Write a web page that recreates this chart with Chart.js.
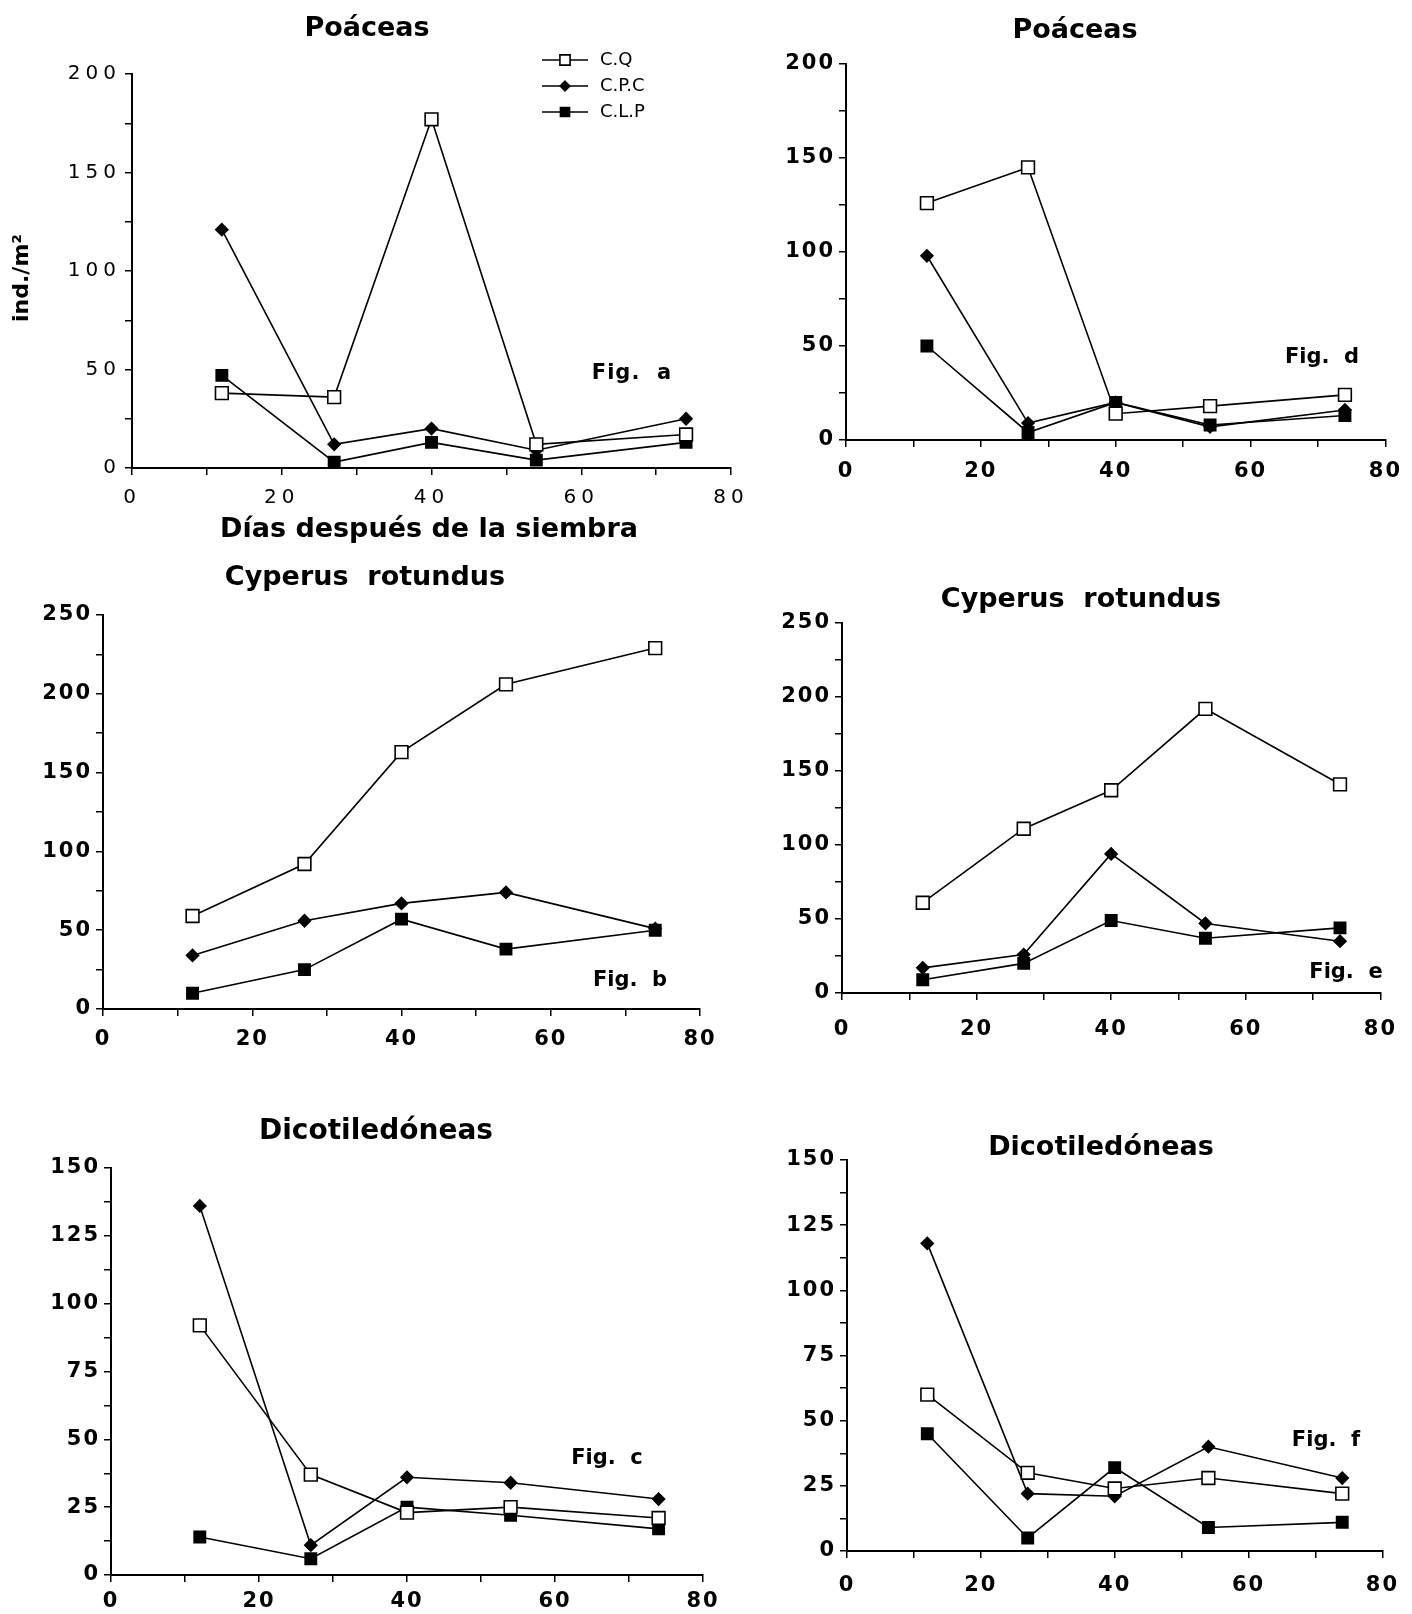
<!DOCTYPE html>
<html>
<head>
<meta charset="utf-8">
<script src="https://cdn.jsdelivr.net/npm/chart.js@4.4.0/dist/chart.umd.min.js"></script>
<style>
    body { margin: 0; background: #fff; }
    #page { position: relative; width: 1412px; height: 1614px; overflow: hidden; background: #fff; }
    #page canvas { position: absolute; }
</style>
</head>
<body>
<div id="page">
    <canvas id="figA" width="770" height="560" style="left:0;top:0"></canvas>
    <canvas id="figD" width="652" height="500" style="left:760px;top:0"></canvas>
    <canvas id="figB" width="760" height="520" style="left:0;top:540px"></canvas>
    <canvas id="figE" width="652" height="500" style="left:760px;top:560px"></canvas>
    <canvas id="figC" width="760" height="534" style="left:0;top:1080px"></canvas>
    <canvas id="figF" width="652" height="534" style="left:760px;top:1080px"></canvas>
</div>
<script>
// Days after sowing (x values, shared by every panel)
const days = [12, 27, 40, 54, 74];

// Series names
const seriesNames = ['C.Q', 'C.P.C', 'C.L.P'];

// Fig. a - Poaceas
const cqA = [38, 36, 177, 12, 17];
const cpcA = [121, 12, 20, 9, 25];
const clpA = [47, 3, 13, 4, 13];

// Fig. d - Poaceas
const cqD = [126, 145, 14, 18, 24];
const cpcD = [98, 9, 20, 7, 16];
const clpD = [50, 4, 20, 8, 13];

// Fig. b - Cyperus rotundus
const cqB = [59, 92, 163, 206, 229];
const cpcB = [34, 56, 67, 74, 51];
const clpB = [10, 25, 57, 38, 50];

// Fig. e - Cyperus rotundus
const cqE = [61, 111, 137, 192, 141];
const cpcE = [17, 26, 94, 47, 35];
const clpE = [9, 20, 49, 37, 44];

// Fig. c - Dicotiledoneas
const cqC = [92, 37, 23, 25, 21];
const cpcC = [136, 11, 36, 34, 28];
const clpC = [14, 6, 25, 22, 17];

// Fig. f - Dicotiledoneas
const cqF = [60, 30, 24, 28, 22];
const cpcF = [118, 22, 21, 40, 28];
const clpF = [45, 5, 32, 9, 11];

const FONT = '"DejaVu Sans", Verdana, sans-serif';

// marker styles for the three series
const markerStyles = [
    { pointStyle: 'rect', fill: '#fff', radius: 9 },
    { pointStyle: 'rectRot', fill: '#000', radius: 6 },
    { pointStyle: 'rect', fill: '#000', radius: 8 }
];

function toPoints(values) {
    return days.map((d, i) => ({ x: d, y: values[i] }));
}

function drawMarker(ctx, style, x, y) {
    ctx.save();
    ctx.fillStyle = style.fill;
    ctx.strokeStyle = '#000';
    ctx.lineWidth = 1.6;
    ctx.beginPath();
    if (style.pointStyle === 'rect') {
        const s = style.radius * Math.SQRT1_2;
        ctx.rect(x - s, y - s, 2 * s, 2 * s);
    } else {
        const r = style.radius;
        ctx.moveTo(x, y - r);
        ctx.lineTo(x + r, y);
        ctx.lineTo(x, y + r);
        ctx.lineTo(x - r, y);
        ctx.closePath();
    }
    ctx.fill();
    ctx.stroke();
    ctx.restore();
}

// Draws titles, Fig. labels, axis titles and the legend
const panelText = {
    id: 'panelText',
    beforeDraw(chart, args, o) {
        chart.ctx.letterSpacing = o.tickSpacing || '0px';
    },
    afterDraw(chart, args, o) {
        const ctx = chart.ctx;
        const ox = o.offset[0], oy = o.offset[1];
        ctx.save();
        ctx.letterSpacing = '0px';
        ctx.fillStyle = '#000';
        ctx.textAlign = 'center';
        ctx.textBaseline = 'middle';
        (o.items || []).forEach(t => {
            ctx.save();
            ctx.font = t.font;
            ctx.letterSpacing = t.spacing || '0px';
            ctx.translate(t.x - ox, t.y - oy);
            if (t.rotate) ctx.rotate(t.rotate);
            ctx.fillText(t.text, 0, 0);
            ctx.restore();
        });
        if (o.legend) {
            const lg = o.legend;
            seriesNames.forEach((name, i) => {
                const y = lg.y + i * lg.gap - oy;
                ctx.strokeStyle = '#000';
                ctx.lineWidth = 1.5;
                ctx.beginPath();
                ctx.moveTo(lg.x - ox, y);
                ctx.lineTo(lg.x + lg.len - ox, y);
                ctx.stroke();
                drawMarker(ctx, { ...markerStyles[i], radius: markerStyles[i].radius * 0.8 }, lg.x + lg.len / 2 - ox, y);
                ctx.font = '18px ' + FONT;
                ctx.textAlign = 'left';
                ctx.fillText(name, lg.x + lg.len + 12 - ox, y);
            });
        }
        ctx.restore();
    }
};

function createPanel(canvasId, cfg) {
    const ctx = document.getElementById(canvasId).getContext('2d');
    const valueSets = [cfg.cq, cfg.cpc, cfg.clp];
    const tickFont = cfg.tickFont || { family: FONT, size: 21, weight: 'bold' };

    return new Chart(ctx, {
        type: 'line',
        data: {
            datasets: valueSets.map((values, i) => ({
                label: seriesNames[i],
                data: toPoints(values),
                borderColor: '#000',
                borderWidth: 1.6,
                pointStyle: markerStyles[i].pointStyle,
                pointRadius: markerStyles[i].radius,
                pointBackgroundColor: markerStyles[i].fill,
                pointBorderColor: '#000',
                pointBorderWidth: 1.6,
                fill: false,
                tension: 0
            }))
        },
        options: {
            responsive: false,
            animation: false,
            layout: {
                padding: { left: 0, top: cfg.padTop, right: cfg.padRight, bottom: 0 }
            },
            plugins: {
                legend: { display: false },
                tooltip: { enabled: false },
                panelText: {
                    offset: cfg.offset,
                    items: cfg.texts,
                    legend: cfg.legend,
                    tickSpacing: cfg.tickSpacing || '2px'
                }
            },
            scales: {
                x: {
                    type: 'linear',
                    min: 0,
                    max: 80,
                    afterFit: s => { s.height = cfg.xAxisH; },
                    ticks: {
                        stepSize: 10,
                        autoSkip: false,
                        maxRotation: 0,
                        padding: cfg.xPad,
                        color: '#000',
                        font: tickFont,
                        callback: v => (v % 20 === 0 ? v : '')
                    },
                    grid: { drawOnChartArea: false, drawTicks: true, tickLength: 7, color: '#000', lineWidth: 1.5 },
                    border: { display: true, color: '#000', width: 2 }
                },
                y: {
                    type: 'linear',
                    min: 0,
                    max: cfg.yMax,
                    afterFit: s => { s.width = cfg.yAxisW; },
                    ticks: {
                        stepSize: cfg.yStep / 2,
                        autoSkip: false,
                        padding: 4,
                        color: '#000',
                        font: tickFont,
                        callback: v => (v % cfg.yStep === 0 ? v : '')
                    },
                    grid: { drawOnChartArea: false, drawTicks: true, tickLength: 7, color: '#000', lineWidth: 1.5 },
                    border: { display: true, color: '#000', width: 2 }
                }
            }
        },
        plugins: [panelText]
    });
}

const titleFont = 'bold 27px ' + FONT;
const figFont = 'bold 21px ' + FONT;

createPanel('figA', {
    cq: cqA, cpc: cpcA, clp: clpA,
    yMax: 200, yStep: 50,
    offset: [0, 0],
    padTop: 74, padRight: 39, yAxisW: 132, xAxisH: 92, xPad: 11,
    tickFont: { family: FONT, size: 20, weight: 'normal' },
    tickSpacing: '5px',
    texts: [
        { text: 'Poáceas', x: 367, y: 29, font: titleFont },
        { text: 'ind./m²', x: 22, y: 278, font: 'bold 22px ' + FONT, rotate: -Math.PI / 2 },
        { text: 'Días después de la siembra', x: 429, y: 530, font: 'bold 27px ' + FONT },
        { text: 'Fig.  a', x: 632, y: 374, font: figFont, spacing: '1px' }
    ],
    legend: { x: 542, y: 60, gap: 26, len: 46 }
});

createPanel('figD', {
    cq: cqD, cpc: cpcD, clp: clpD,
    yMax: 200, yStep: 50,
    offset: [760, 0],
    padTop: 64, padRight: 23, yAxisW: 86, xAxisH: 60, xPad: 12,
    texts: [
        { text: 'Poáceas', x: 1075, y: 31, font: titleFont },
        { text: 'Fig.  d', x: 1322, y: 358, font: figFont }
    ]
});

createPanel('figB', {
    cq: cqB, cpc: cpcB, clp: clpB,
    yMax: 250, yStep: 50,
    offset: [0, 540],
    padTop: 75, padRight: 60, yAxisW: 103, xAxisH: 51, xPad: 11,
    texts: [
        { text: 'Cyperus  rotundus', x: 365, y: 578, font: titleFont },
        { text: 'Fig.  b', x: 630, y: 981, font: figFont }
    ]
});

createPanel('figE', {
    cq: cqE, cpc: cpcE, clp: clpE,
    yMax: 250, yStep: 50,
    offset: [760, 560],
    padTop: 63, padRight: 25, yAxisW: 82, xAxisH: 67, xPad: 17,
    texts: [
        { text: 'Cyperus  rotundus', x: 1081, y: 600, font: titleFont },
        { text: 'Fig.  e', x: 1346, y: 973, font: figFont }
    ]
});

createPanel('figC', {
    cq: cqC, cpc: cpcC, clp: clpC,
    yMax: 150, yStep: 25,
    offset: [0, 1080],
    padTop: 88, padRight: 57, yAxisW: 111, xAxisH: 39, xPad: 7,
    texts: [
        { text: 'Dicotiledóneas', x: 376, y: 1132, font: 'bold 28px ' + FONT },
        { text: 'Fig.  c', x: 607, y: 1459, font: figFont }
    ]
});

createPanel('figF', {
    cq: cqF, cpc: cpcF, clp: clpF,
    yMax: 150, yStep: 25,
    offset: [760, 1080],
    padTop: 80, padRight: 23, yAxisW: 87, xAxisH: 63, xPad: 15,
    texts: [
        { text: 'Dicotiledóneas', x: 1101, y: 1148, font: titleFont },
        { text: 'Fig.  f', x: 1326, y: 1441, font: figFont }
    ]
});
</script>
</body>
</html>
